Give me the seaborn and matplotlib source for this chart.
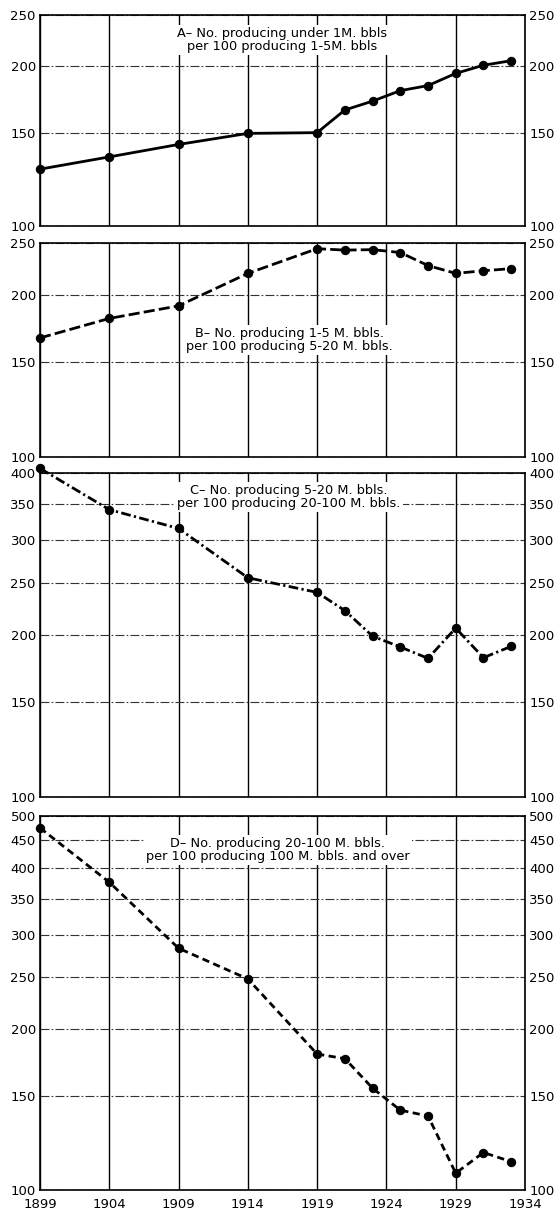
import numpy as np
import pandas as pd
import seaborn as sns
import matplotlib.pyplot as plt
from matplotlib.ticker import FixedLocator, FixedFormatter, NullLocator

years = [1899, 1904, 1909, 1914, 1919, 1921, 1923, 1925, 1927, 1929, 1931, 1933]

# A - under 1M per 100 producing 1-5M
ratio_a = [128, 135, 142.5, 149.5, 150, 165.5, 172, 180, 184, 194, 201, 205]
# B - 1-5M per 100 producing 5-20M
ratio_b = [166.5, 181, 191, 219.5, 244, 242.5, 243, 240, 227, 219.5, 222, 224]
# C - 5-20M per 100 producing 20-100M
ratio_c = [408, 342, 315.5, 255.5, 240, 222, 199, 190, 181, 206, 181.5, 190.5]
# D - 20-100M per 100 producing 100M and over
ratio_d = [475, 376, 283, 248, 179.5, 176, 155, 141, 137.5, 107.5, 117.5, 113]

labels = [
    "A\u2013 No. producing under 1M. bbls\nper 100 producing 1-5M. bbls",
    "B\u2013 No. producing 1-5 M. bbls.\nper 100 producing 5-20 M. bbls.",
    "C\u2013 No. producing 5-20 M. bbls.\nper 100 producing 20-100 M. bbls.",
    "D\u2013 No. producing 20-100 M. bbls.\nper 100 producing 100 M. bbls. and over",
]
yticks_list = [
    [100, 150, 200, 250],
    [100, 150, 200, 250],
    [100, 150, 200, 250, 300, 350, 400],
    [100, 150, 200, 250, 300, 350, 400, 450, 500],
]
xticks = [1899, 1904, 1909, 1914, 1919, 1924, 1929, 1934]

sns.set_style("white")
plt.rcParams["font.family"] = ["DejaVu Sans"]
plt.rcParams["text.color"] = "black"
plt.rcParams["xtick.color"] = "black"
plt.rcParams["ytick.color"] = "black"

W, H = 560, 1212
fig = plt.figure(figsize=(W / 100, H / 100), dpi=100)

# panel pixel extents (top, bottom)
extents = [(15, 226), (243, 457), (473, 797), (816, 1190)]
left, right = 40, 525
dashes = [None, (4, 1.5), (3.5, 1.2, 0.8, 1.2), (2.6, 1.6)]
text_pos = [(282, 40), (289, 340), (289, 497), (278, 850)]
series = [ratio_a, ratio_b, ratio_c, ratio_d]

for i, (vals, (top, bot)) in enumerate(zip(series, extents)):
    ax = fig.add_axes([left / W, 1 - bot / H, (right - left) / W, (bot - top) / H])
    df = pd.DataFrame({"year": years, "ratio": vals})
    ax.set_yscale("log")
    sns.lineplot(data=df, x="year", y="ratio", ax=ax, color="black", lw=2.0,
                 marker="o", markersize=6, markeredgecolor="black", clip_on=False, zorder=5)
    line = ax.lines[-1]
    if dashes[i] is not None:
        line.set_dashes(dashes[i])

    yt = yticks_list[i]
    ax.set_ylim(yt[0], yt[-1])
    ax.set_xlim(1899, 1934)
    ax.yaxis.set_major_locator(FixedLocator(yt))
    ax.yaxis.set_major_formatter(FixedFormatter([str(v) for v in yt]))
    ax.yaxis.set_minor_locator(NullLocator())
    ax.xaxis.set_major_locator(FixedLocator(xticks))
    ax.tick_params(axis="y", which="both", length=0, pad=3, labelsize=9.5,
                   labelleft=True, labelright=True, colors="black")
    if i == 3:
        ax.tick_params(axis="x", length=0, pad=6, labelsize=9.5, colors="black")
    else:
        ax.tick_params(axis="x", length=0, labelbottom=False)

    ax.grid(axis="x", color="black", lw=1.0, ls="-")
    ax.grid(axis="y", color="#333333", lw=0.8, ls=(0, (8, 2, 1.5, 2)))
    for s in ax.spines.values():
        s.set_color("black")
        s.set_linewidth(1.2)
    ax.set_xlabel("")
    ax.set_ylabel("")

    tx, ty = text_pos[i]
    fig.text(tx / W, 1 - ty / H, labels[i], ha="center", va="center",
             fontsize=9.3, linespacing=1.05, color="black",
             bbox=dict(facecolor="white", edgecolor="none", pad=1.5))

fig.savefig("out.png", dpi=100)
